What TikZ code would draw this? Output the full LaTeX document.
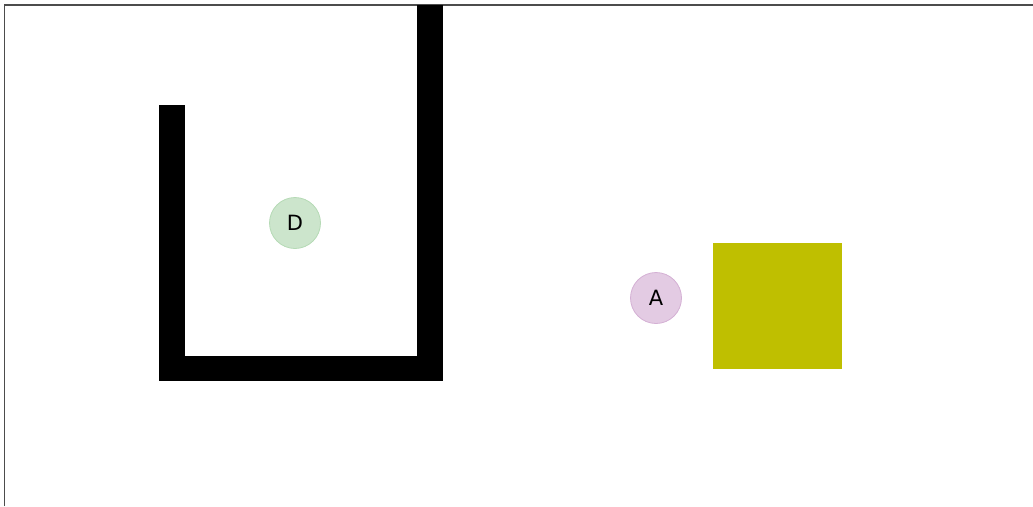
\documentclass[tikz,border=0pt]{standalone}
\usepackage{fontspec}
\setmainfont{DejaVu Sans}
\usepackage{xcolor}
\usetikzlibrary{positioning}

\definecolor{agentfill}{HTML}{E3CBE3}
\definecolor{agentline}{HTML}{D4B0D4}
\definecolor{goalfill}{HTML}{CCE5CC}
\definecolor{goalline}{HTML}{B5DAB5}
\definecolor{boxfill}{HTML}{BFBF00}

\begin{document}
\begin{tikzpicture}[
    x=1pt, y=-1pt,
    every node/.style={font=\fontsize{21}{24}\selectfont},
    token/.style={circle, draw, line width=0.8pt, minimum size=51pt, inner sep=0pt},
    wall/.style={fill=black},
    crate/.style={fill=boxfill, draw=none, minimum width=129pt, minimum height=126pt, inner sep=0pt}
]
    \useasboundingbox (0,0) rectangle (1033,506);
    \draw[gray!60!black, line width=1.2pt] (4.5,506) -- (4.5,5) -- (1033,5);

    % walls
    \fill[wall] (159,105) rectangle (185,381);
    \fill[wall] (159,356) rectangle (443,381);
    \fill[wall] (417,5) rectangle (443,381);

    \node[token, fill=goalfill, draw=goalline] (goal) at (295,223) {D};
    \node[token, fill=agentfill, draw=agentline] (agent) at (656,298) {A};
    \node[crate] (box) at (777.5,306) {};
\end{tikzpicture}
\end{document}
